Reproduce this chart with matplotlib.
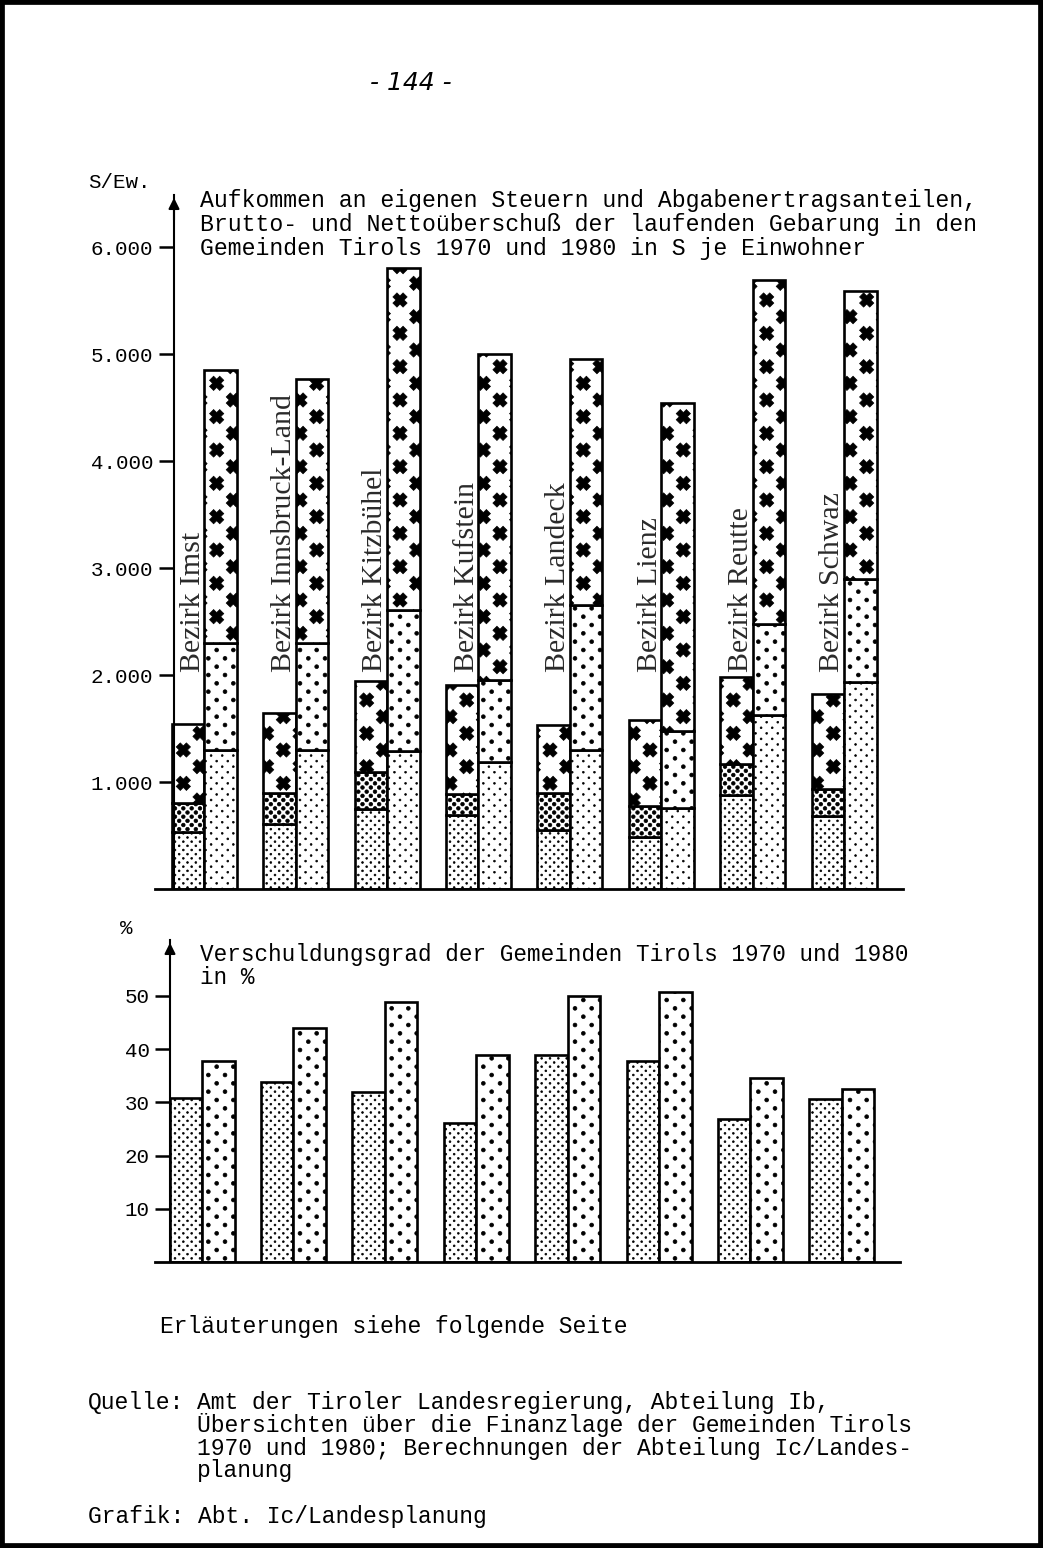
import numpy as np
import matplotlib
matplotlib.use('Agg')
import matplotlib.pyplot as plt
import matplotlib.hatch as mhatch
from matplotlib.path import Path
from matplotlib.patches import Rectangle

# --- data ---
districts = ['Imst', 'Innsbruck-Land', 'Kitzbühel', 'Kufstein',
             'Landeck', 'Lienz', 'Reutte', 'Schwaz']

# S je Einwohner, levels of the stacked bars (netto <= brutto <= aufkommen)
netto_1970 = [535, 605, 745, 692, 551, 486, 877, 681]
brutto_1970 = [801, 900, 1097, 888, 897, 776, 1166, 933]
aufkommen_1970 = [1542, 1648, 1947, 1907, 1533, 1579, 1978, 1819]
netto_1980 = [1299, 1299, 1293, 1187, 1299, 757, 1623, 1934]
brutto_1980 = [2302, 2296, 2607, 1953, 2654, 1477, 2481, 2894]
aufkommen_1980 = [4850, 4763, 5804, 5000, 4953, 4539, 5692, 5592]

# Verschuldungsgrad in %
schuld_1970 = [30.8, 33.8, 32.0, 26.1, 38.8, 37.8, 26.9, 30.6]
schuld_1980 = [37.8, 43.9, 48.9, 38.8, 49.9, 50.8, 34.5, 32.5]

upper_ticks = [1000, 2000, 3000, 4000, 5000, 6000]
upper_labels = ['1.000', '2.000', '3.000', '4.000', '5.000', '6.000']
lower_ticks = [10, 20, 30, 40, 50]
lower_labels = ['10', '20', '30', '40', '50']

plt.rcParams['font.family'] = ['Liberation Mono', 'DejaVu Sans Mono']
plt.rcParams['hatch.linewidth'] = 0.5


# --- screen-print style fills: checkerboard of dots / bold crosses ---
def checker_hatch(char, per_char, shape, half):
    class Pattern(mhatch.HatchPatternBase):
        def __init__(self, hatch, density):
            n = hatch.count(char) * per_char
            self.centres = []
            for k in range(2 * n + 1 if n else 0):
                if k % 2 == 0:
                    cols = np.arange(n + 1) / n
                else:
                    cols = (np.arange(n) + 0.5) / n
                self.centres += [(c, k / (2 * n)) for c in cols]
            self.num_vertices = len(self.centres) * len(shape.vertices)

        def set_vertices_and_codes(self, vertices, codes):
            m = len(shape.vertices)
            for i, c in enumerate(self.centres):
                vertices[i * m:(i + 1) * m] = shape.vertices * half + c
                codes[i * m:(i + 1) * m] = shape.codes
    return Pattern


a = 0.4
plus = np.array([(a, 1), (-a, 1), (-a, a), (-1, a), (-1, -a), (-a, -a), (-a, -1),
                 (a, -1), (a, -a), (1, -a), (1, a), (a, a), (a, 1)])
c45 = np.sqrt(0.5)
rot = np.array([[c45, -c45], [c45, c45]])
x_shape = Path(plus @ rot.T, [Path.MOVETO] + [Path.LINETO] * 11 + [Path.CLOSEPOLY])
circle = Path.unit_circle()

mhatch._hatch_types = [
    checker_hatch('.', 3, circle, 0.009),
    checker_hatch('O', 3, circle, 0.018),
    checker_hatch('o', 3, circle, 0.019),
    checker_hatch('*', 3, x_shape, 0.072),
]

W, H = 1043, 1548
fig = plt.figure(figsize=(W / 100, H / 100), dpi=100)


def fx(px):
    return px / W


def fy(py):
    return 1 - py / H


step = 91.4
bw = 32.5 / step
x = np.arange(len(districts))


def make_axes(left, right, base, top, centre0, axis_px, ymax, ticks, labels, ticklen):
    ax = fig.add_axes([fx(left), fy(base), (right - left) / W, (base - top) / H])
    ax.set_xlim((left - centre0) / step, (right - centre0) / step)
    ax.set_ylim(0, ymax)
    xa = (axis_px - centre0) / step
    for s in ['top', 'right']:
        ax.spines[s].set_visible(False)
    ax.spines['left'].set_position(('data', xa))
    ax.spines['left'].set_linewidth(1.5)
    ax.spines['bottom'].set_linewidth(2.0)
    ax.set_xticks([])
    ax.set_yticks(ticks, labels)
    ax.tick_params(axis='y', direction='out', length=ticklen, width=1.8, pad=4,
                   labelsize=15)
    ax.annotate('', xy=(xa, ymax), xytext=(xa, ymax * 0.96),
                arrowprops=dict(arrowstyle='-|>', lw=1.5, color='black',
                                mutation_scale=16))
    return ax


def stacked(ax, xs, levels, hatches):
    bottom = np.zeros(len(xs))
    for level, hatch in zip(levels, hatches):
        level = np.asarray(level, dtype=float)
        ax.bar(xs, level - bottom, bw, bottom=bottom, facecolor='white',
               edgecolor='black', linewidth=1.9, hatch=hatch, zorder=2)
        bottom = level


# --- upper chart ---
ax1 = make_axes(155, 903, 889, 195, 204.2, 174, 6486, upper_ticks, upper_labels, 11)
stacked(ax1, x - bw / 2, [netto_1970, brutto_1970, aufkommen_1970], ['....', 'OOOO', '*'])
stacked(ax1, x + bw / 2, [netto_1980, brutto_1980, aufkommen_1980], ['...', 'oo', '*'])
for i, name in enumerate(districts):
    ax1.text(x[i] - bw / 2 + 0.05, 2030, f'Bezirk {name}', rotation=90,
             ha='center', va='bottom', family='Liberation Serif', fontsize=21.5,
             color='#2a2a2a')

# --- lower chart ---
ax2 = make_axes(155, 900, 1262, 940, 202.0, 170, 60.5, lower_ticks, lower_labels, 10.5)
ax2.bar(x - bw / 2, schuld_1970, bw, facecolor='white', edgecolor='black',
        linewidth=1.9, hatch='....', zorder=2)
ax2.bar(x + bw / 2, schuld_1980, bw, facecolor='white', edgecolor='black',
        linewidth=1.9, hatch='oo', zorder=2)

# --- page texts ---
fig.text(fx(370), fy(83), '- 144 -', family='DejaVu Sans', style='italic',
         fontsize=18, va='center')
fig.text(fx(88), fy(183), 'S/Ew.', fontsize=15, va='center')
title1 = ['Aufkommen an eigenen Steuern und Abgabenertragsanteilen,',
          'Brutto- und Nettoüberschuß der laufenden Gebarung in den',
          'Gemeinden Tirols 1970 und 1980 in S je Einwohner']
for k, line in enumerate(title1):
    fig.text(fx(200), fy(201 + 23.5 * k), line, fontsize=16.7, va='center')

fig.text(fx(120), fy(928), '%', fontsize=15, va='center')
fig.text(fx(200), fy(955), 'Verschuldungsgrad der Gemeinden Tirols 1970 und 1980',
         fontsize=16.3, va='center')
fig.text(fx(200), fy(977), 'in %', fontsize=16.3, va='center')

fig.text(fx(160), fy(1327), 'Erläuterungen siehe folgende Seite', fontsize=16.6, va='center')
fig.text(fx(88), fy(1402), 'Quelle:', fontsize=16.6, va='center')
source = ['Amt der Tiroler Landesregierung, Abteilung Ib,',
          'Übersichten über die Finanzlage der Gemeinden Tirols',
          '1970 und 1980; Berechnungen der Abteilung Ic/Landes-',
          'planung']
for k, line in enumerate(source):
    fig.text(fx(197), fy(1402 + 23 * k), line, fontsize=16.6, va='center')
fig.text(fx(88), fy(1517), 'Grafik: Abt. Ic/Landesplanung', fontsize=16.6, va='center')

fig.add_artist(Rectangle((0, 0), 1, 1, transform=fig.transFigure, fill=False,
                         edgecolor='black', linewidth=7))

fig.savefig('out.png', dpi=100, facecolor='white')
